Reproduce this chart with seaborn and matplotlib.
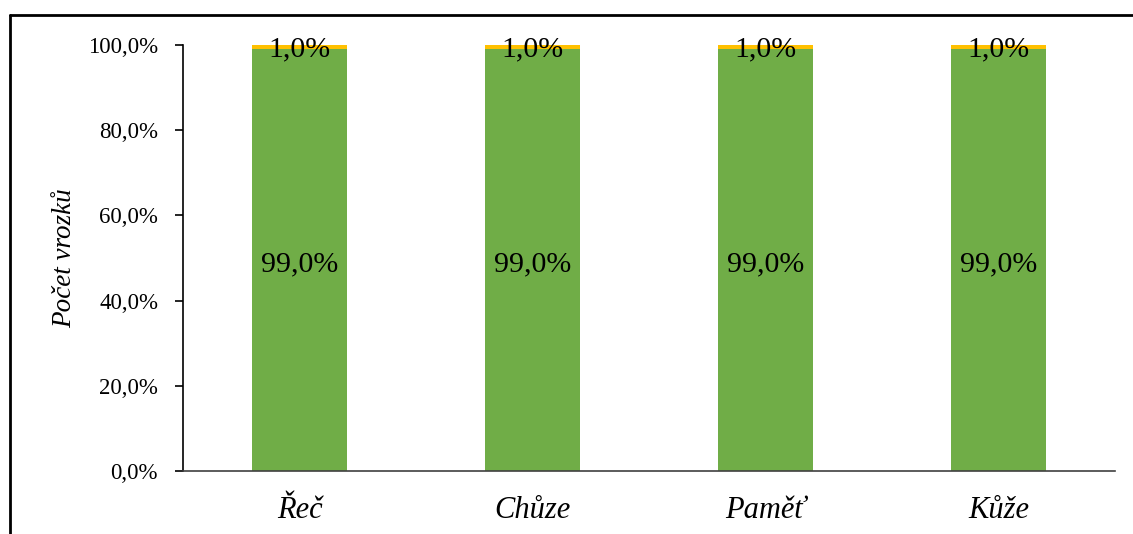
import matplotlib
matplotlib.use("Agg")
import matplotlib.pyplot as plt
from matplotlib.lines import Line2D
import seaborn as sns
import pandas as pd
import numpy as np

categories = ["Řeč", "Chůze", "Paměť", "Kůže"]
green_vals = [99.0, 99.0, 99.0, 99.0]
yellow_vals = [1.0, 1.0, 1.0, 1.0]
y_ticks = [0, 20, 40, 60, 80, 100]
y_tick_labels = ["0,0%", "20,0%", "40,0%", "60,0%", "80,0%", "100,0%"]
y_label = "Počet vrozků"

GREEN = "#70AD47"
YELLOW = "#FFC000"

sns.set_style("white")
plt.rcParams["font.family"] = ["Liberation Serif", "DejaVu Serif"]
plt.rcParams["text.color"] = "black"
plt.rcParams["axes.labelcolor"] = "black"
plt.rcParams["xtick.color"] = "black"
plt.rcParams["ytick.color"] = "black"

df = pd.DataFrame({
    "cat": categories,
    "green": green_vals,
    "total": np.array(green_vals) + np.array(yellow_vals),
})

fig = plt.figure(figsize=(11.33, 5.34), dpi=100)
ax = fig.add_axes([183 / 1133, 1 - 471 / 534, (1115 - 183) / 1133, (471 - 45) / 534])

sns.barplot(data=df, x="cat", y="total", color=YELLOW, width=0.405,
            saturation=1, ax=ax, linewidth=0)
sns.barplot(data=df, x="cat", y="green", color=GREEN, width=0.405,
            saturation=1, ax=ax, linewidth=0)

ax.set_ylim(0, 100)
ax.set_xlim(-0.5, len(categories) - 0.5)
ax.set_yticks(y_ticks)
ax.set_yticklabels(y_tick_labels, fontsize=16.5)
ax.set_xticks(range(len(categories)))
ax.set_xticklabels(categories, fontsize=22, style="italic")
ax.tick_params(axis="y", length=6, width=1.2, pad=12, direction="out", left=True, colors="black")
ax.tick_params(axis="x", length=0, pad=18, colors="black")
ax.set_xlabel("")
ax.set_ylabel(y_label, fontsize=19.5, style="italic", labelpad=8, color="black")

for s in ["top", "right"]:
    ax.spines[s].set_visible(False)
ax.spines["left"].set_color("black")
ax.spines["left"].set_linewidth(1.2)
ax.spines["bottom"].set_color("#404040")
ax.spines["bottom"].set_linewidth(1.2)

for i, (g, yv) in enumerate(zip(green_vals, yellow_vals)):
    ax.text(i, g / 2 - 1.0, f"{g:.1f}%".replace(".", ","), ha="center", va="center",
            fontsize=21.5, color="black")
    ax.text(i, g + yv / 2 - 0.6, f"{yv:.1f}%".replace(".", ","), ha="center", va="center",
            fontsize=21.5, color="black")

# outer border (top and left)
bx = 10 / 1133
by = 1 - 15 / 534
fig.add_artist(Line2D([bx, 1], [by, by], transform=fig.transFigure, color="black", lw=2))
fig.add_artist(Line2D([bx, bx], [0, by], transform=fig.transFigure, color="black", lw=2))

fig.savefig("out.png", dpi=100)
